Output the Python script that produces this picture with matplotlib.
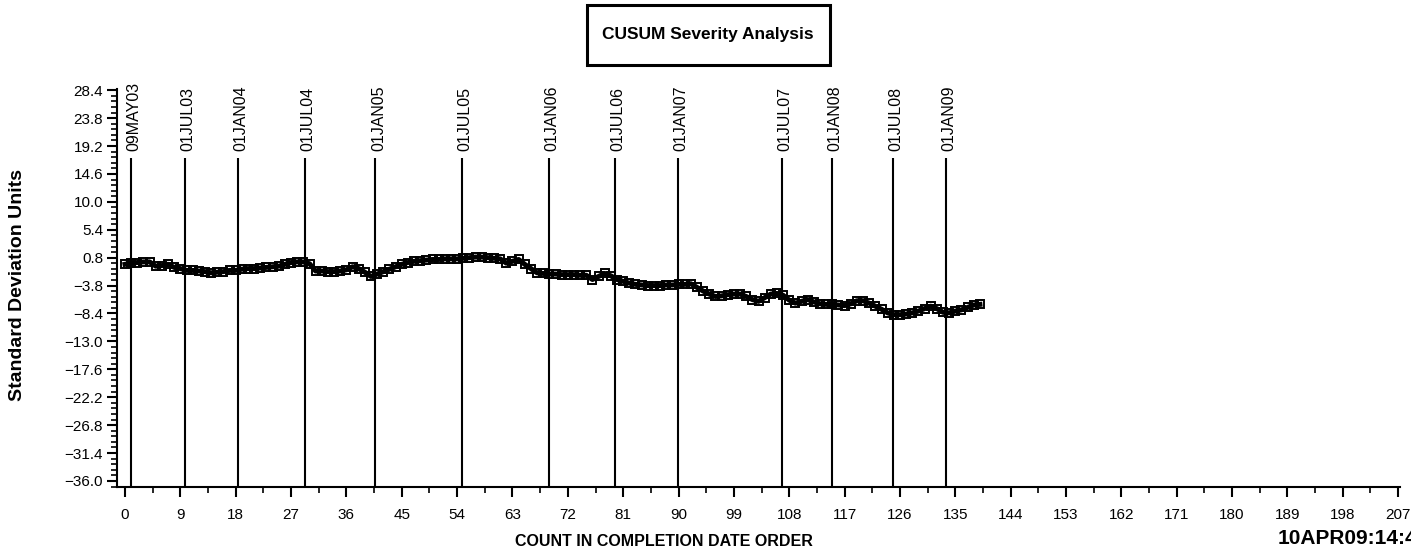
import matplotlib
matplotlib.use("Agg")
import matplotlib.pyplot as plt
import numpy as np
from matplotlib.patches import Rectangle
from matplotlib.ticker import MultipleLocator, AutoMinorLocator

plt.rcParams["font.family"] = ["Liberation Sans Narrow", "Liberation Sans", "DejaVu Sans"]

# CUSUM values, one per completed record (count order 0..139)
cusum = [
    -0.3, -0.1, 0.0, 0.1, 0.1, -0.6, -0.5, -0.3, -0.8, -1.0,
    -1.3, -1.3, -1.4, -1.5, -1.7, -1.6, -1.5, -1.3, -1.3, -1.1,
    -1.0, -1.0, -0.9, -0.8, -0.7, -0.6, -0.3, 0.0, 0.1, 0.1,
    -0.2, -1.4, -1.4, -1.5, -1.5, -1.4, -1.2, -0.7, -1.0, -1.6,
    -2.3, -1.9, -1.5, -1.1, -0.7, -0.3, 0.0, 0.2, 0.3, 0.4,
    0.5, 0.5, 0.6, 0.6, 0.6, 0.7, 0.8, 0.9, 0.9, 0.8,
    0.7, 0.6, -0.1, 0.2, 0.5, -0.3, -1.0, -1.7, -1.8, -1.9,
    -1.9, -2.0, -2.0, -2.0, -2.1, -2.1, -2.8, -2.3, -1.8, -2.2,
    -2.8, -3.1, -3.4, -3.6, -3.7, -3.8, -3.8, -3.8, -3.7, -3.7,
    -3.6, -3.6, -3.5, -4.1, -4.7, -5.2, -5.6, -5.5, -5.3, -5.2,
    -5.2, -5.6, -6.1, -6.4, -5.8, -5.2, -5.1, -5.4, -6.2, -6.7,
    -6.4, -6.1, -6.5, -6.8, -6.9, -6.9, -7.0, -7.1, -6.8, -6.3,
    -6.3, -6.7, -7.2, -7.7, -8.3, -8.6, -8.6, -8.5, -8.3, -8.0,
    -7.6, -7.2, -7.6, -8.2, -8.3, -8.0, -7.8, -7.4, -7.0, -6.9,
]
count = np.arange(len(cusum))

# date reference lines (count position where each date falls)
ref_pos = [1.0, 9.7, 18.3, 29.3, 40.7, 54.8, 68.9, 79.7, 89.9, 106.8, 114.9, 124.8, 133.5]
ref_labels = ["09MAY03", "01JUL03", "01JAN04", "01JUL04", "01JAN05", "01JUL05", "01JAN06",
              "01JUL06", "01JAN07", "01JUL07", "01JAN08", "01JUL08", "01JAN09"]

y_ticks = [-36.0, -31.4, -26.8, -22.2, -17.6, -13.0, -8.4, -3.8, 0.8, 5.4, 10.0, 14.6, 19.2, 23.8, 28.4]
x_ticks = list(range(0, 208, 9))

W, H = 1411, 555
fig = plt.figure(figsize=(W / 100, H / 100), dpi=100)
ax = fig.add_axes([117 / W, 68 / H, 1283 / W, 398 / H])

ax.plot(count, cusum, color="black", lw=3.6, marker="s", ms=5.8, mfc="none",
        mec="black", mew=1.4, zorder=3)

ax.vlines(ref_pos, -37.0, 17.3, color="black", lw=1.5, zorder=2)
for xp, lab in zip(ref_pos, ref_labels):
    ax.text(xp + 0.5, 18.4, lab, rotation=90, ha="center", va="bottom",
            fontsize=11.5, family=["Liberation Sans", "DejaVu Sans"])

ax.set_xlim(-1.3, 207.3)
ax.set_ylim(-37.0, 28.6)

for side in ["top", "right"]:
    ax.spines[side].set_visible(False)
ax.spines["bottom"].set_linewidth(1.5)
ax.spines["left"].set_linewidth(1.5)

ax.set_xticks(x_ticks)
ax.set_xticklabels([str(v) for v in x_ticks])
ax.xaxis.set_minor_locator(MultipleLocator(4.5))
ax.set_yticks(y_ticks)
ax.set_yticklabels([f"{v:.1f}".replace("-", "\u2212") for v in y_ticks])
ax.yaxis.set_minor_locator(AutoMinorLocator(5))

ax.tick_params(axis="both", which="major", direction="out", length=7, width=1.5,
               labelsize=11, color="black")
ax.tick_params(axis="both", which="minor", direction="out", length=4, width=1.2)
ax.tick_params(axis="x", pad=8)
ax.tick_params(axis="y", pad=3)

# title box
fig.patches.append(Rectangle((587 / W, 1 - 65 / H), 243 / W, 60 / H, transform=fig.transFigure,
                             fill=False, lw=2.2, edgecolor="black"))
fig.text(708 / W, 1 - 35 / H, "CUSUM Severity Analysis", ha="center", va="center",
         fontsize=12.5, fontweight="bold")

fig.text(18 / W, 1 - 285 / H, "Standard Deviation Units", rotation=90, ha="center",
         va="center", fontsize=14, fontweight="bold")
fig.text(664 / W, 1 - 541 / H, "COUNT IN COMPLETION DATE ORDER", ha="center", va="center",
         fontsize=11.5, fontweight="bold")
fig.text(1278 / W, 1 - 539 / H, "10APR09:14:42", ha="left", va="center",
         fontsize=15, fontweight="bold")

fig.savefig("out.png", dpi=100)
